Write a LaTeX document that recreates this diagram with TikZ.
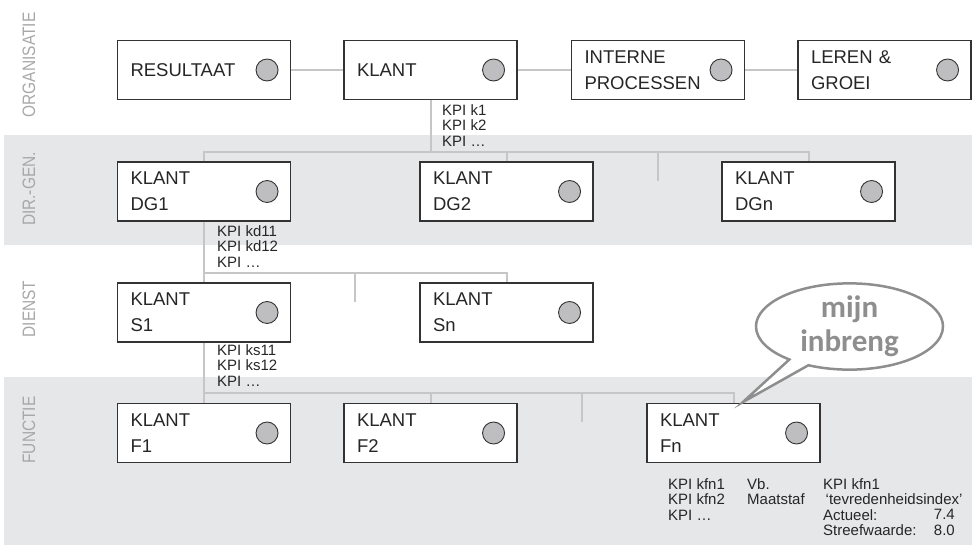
\documentclass[tikz,border=0pt]{standalone}
\usepackage{fontspec}
\setmainfont{Liberation Sans}
\newfontfamily\bubblefont{Carlito}
\newfontfamily\labfont[FakeStretch=0.86]{Liberation Sans}
\usetikzlibrary{shapes.callouts}
\definecolor{band}{HTML}{E6E7E9}
\definecolor{conn}{HTML}{C6C6C8}
\definecolor{dot}{HTML}{BEBEC0}
\definecolor{lab}{HTML}{A8A8A8}
\definecolor{bub}{HTML}{8E8E8E}
\definecolor{edge}{HTML}{333333}
\begin{document}
\begin{tikzpicture}[x=1pt,y=-1pt,
 kbox/.style={draw=edge, line width=1.1pt, fill=white, rectangle, minimum width=173pt, minimum height=59pt, text width=147pt, inner xsep=13pt, inner ysep=0pt, align=left, font=\fontsize{18.5}{26}\selectfont, text=black!85},
 kdot/.style={circle, draw=edge, line width=0.9pt, fill=dot, minimum size=22pt, inner sep=0pt},
 link/.style={draw=conn, line width=2pt},
 kpi/.style={anchor=north west, inner sep=0pt, align=left, font=\fontsize{15}{15.5}\selectfont, text=black!85},
 lvl/.style={rotate=90, inner sep=0pt, font=\labfont\fontsize{18}{18}\selectfont, text=lab}
]
\useasboundingbox (0,0) rectangle (975,545);
% bands
\fill[band] (4,135) rectangle (972,245);
\fill[band] (4,377) rectangle (972,545);
% level labels
\node[lvl] (lorg) at (29,65) {ORGANISATIE};
\node[lvl] (ldg) at (29,189) {DIR.-GEN.};
\node[lvl] (ldi) at (29,309) {DIENST};
\node[lvl] (lfu) at (29,430) {FUNCTIE};
% row 1
\node[kbox] (res) at (204,70) {RESULTAAT};
\node[kbox] (kl) at (430.5,70) {KLANT};
\node[kbox] (ip) at (658,70) {INTERNE\\PROCESSEN};
\node[kbox] (lg) at (884.5,70) {LEREN \&\\GROEI};
% row 2
\node[kbox] (dg1) at (204,191.5) {KLANT\\DG1};
\node[kbox] (dg2) at (506.5,191.5) {KLANT\\DG2};
\node[kbox] (dgn) at (808.5,191.5) {KLANT\\DGn};
% row 3
\node[kbox] (s1) at (204,312.5) {KLANT\\S1};
\node[kbox] (sn) at (506.5,312.5) {KLANT\\Sn};
% row 4
\node[kbox] (f1) at (204,433) {KLANT\\F1};
\node[kbox] (f2) at (430.5,433) {KLANT\\F2};
\node[kbox] (fn) at (733.5,433) {KLANT\\Fn};
% dots
\foreach \b in {res,kl,ip,lg,dg1,dg2,dgn,s1,sn,f1,f2,fn}
  \node[kdot] (\b-dot) at ([xshift=-24pt]\b.east) {};
% bus coordinates and stubs
\coordinate (bus1) at (204,152);
\coordinate (stub1) at (658,181);
\coordinate (bus2) at (204,273);
\coordinate (stub2) at (355,302);
\coordinate (bus3) at (204,393);
\coordinate (stub3) at (582,422);
% connectors row 1
\draw[link] (res.east) -- (kl.west);
\draw[link] (kl.east) -- (ip.west);
\draw[link] (ip.east) -- (lg.west);
% tree 1
\draw[link] (kl.south) -- (kl.south |- bus1);
\draw[link] (dg1.north) -- (dg1.north |- bus1) -- (dgn.north |- bus1) -- (dgn.north);
\draw[link] (dg2.north) -- (dg2.north |- bus1);
\draw[link] (stub1 |- bus1) -- (stub1);
% tree 2
\draw[link] (dg1.south) -- (s1.north);
\draw[link] (s1.north |- bus2) -- (sn.north |- bus2) -- (sn.north);
\draw[link] (stub2 |- bus2) -- (stub2);
% tree 3
\draw[link] (s1.south) -- (f1.north);
\draw[link] (f1.north |- bus3) -- (fn.north |- bus3) -- (fn.north);
\draw[link] (f2.north) -- (f2.north |- bus3);
\draw[link] (stub3 |- bus3) -- (stub3);
% KPI texts
\node[kpi] (kpik) at (442,104) {KPI k1\\KPI k2\\KPI \dots};
\node[kpi] (kpid) at (217,225) {KPI kd11\\KPI kd12\\KPI \dots};
\node[kpi] (kpis) at (217,344) {KPI ks11\\KPI ks12\\KPI \dots};
\node[kpi] (kpif) at (668,478) {KPI kfn1\\KPI kfn2\\KPI \dots};
\node[kpi] (vb) at (747,478) {Vb.\\Maatstaf};
\node[kpi] (ex) at (823,478) {KPI kfn1\\\,‘tevredenheidsindex’\\Actueel:\\Streefwaarde:};
\node[kpi, anchor=north east, align=right] (exv) at (955,509) {7.4\\8.0};
% speech bubble
\coordinate (tip) at (743,402);
\node[ellipse callout, draw=bub, line width=2.5pt, fill=white,
      minimum width=187pt, minimum height=86pt, inner sep=0pt,
      callout absolute pointer={(tip)}, callout pointer arc=14,
      align=center, text=bub,
      font=\bubblefont\bfseries\fontsize{31}{34}\selectfont] (bubble) at (849.5,326.5) {mijn\\inbreng};
\end{tikzpicture}
\end{document}
